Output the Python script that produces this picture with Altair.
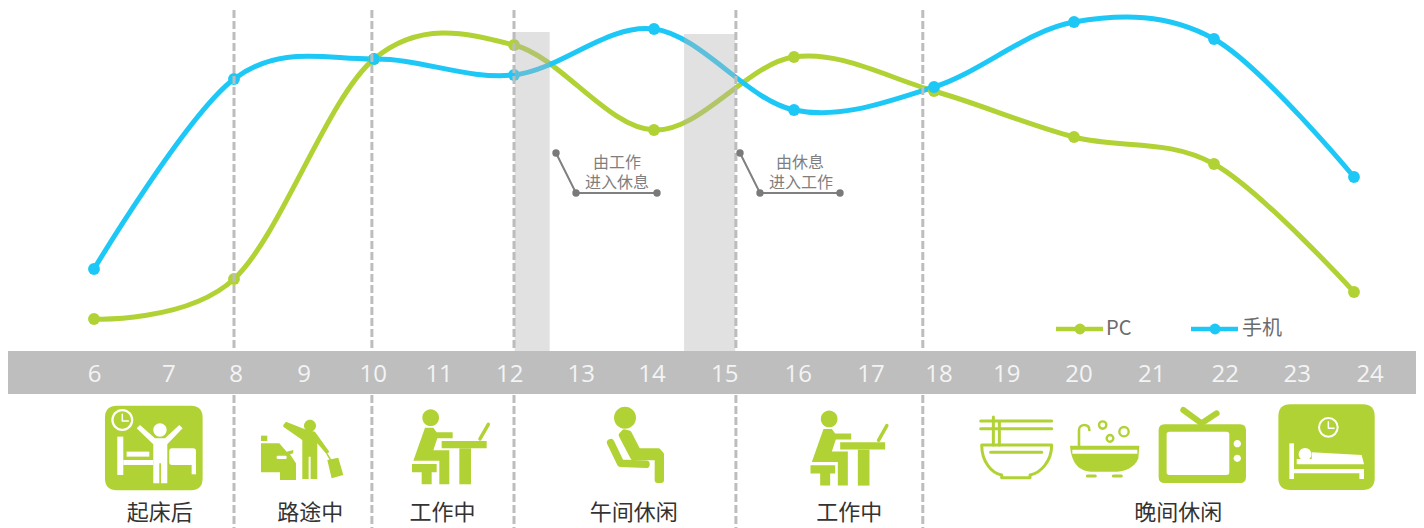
import re
import altair as alt
import pandas as pd

# ---- series ----
hours = [6, 8, 10, 12, 14, 16, 18, 20, 22, 24]
pc_values = [32, 72, 292, 306, 221, 294, 260, 214, 187, 59]
phone_values = [82, 272, 292, 276, 322, 241, 264, 329, 312, 174]

tick_labels = [str(i) for i in range(6, 25)]
tick_hours = [6.01, 7.07, 8.03, 9.0, 9.99, 10.93, 11.94, 12.96, 13.97, 15.01,
              16.06, 17.1, 18.07, 19.04, 20.07, 21.11, 22.16, 23.19, 24.23]
divider_hours = [8, 9.97, 12, 15.17, 17.84]
band_start = [12.01, 14.43]
band_end = [12.51, 15.16]
band_top = [319, 317]

caption_texts = ["起床后", "路途中", "工作中", "午间休闲", "工作中", "晚间休闲"]
caption_hours = [6.94, 9.09, 10.98, 13.71, 16.79, 21.49]

GREEN = "#b1d234"
BLUE = "#1ec8f6"
W, H = 1408, 520


def hr(px):
    return 6 + (px - 94) / 70


def val(py):
    return 351 - py


xs = alt.Scale(domain=[hr(8), hr(8 + W)], range=[0, W], nice=False, zero=False)
ys = alt.Scale(domain=[val(8 + H), val(8)], range=[H, 0], nice=False, zero=False)
X = alt.X("h:Q", scale=xs, axis=None)
Y = alt.Y("v:Q", scale=ys, axis=None)


def base(df):
    return alt.Chart(pd.DataFrame(df))


# ---- icon glyph helpers (coordinates are glyph-local, in a 3x design grid) ----
def poly(*pts):
    p = list(pts)
    return "M" + "L".join(f"{p[i]},{p[i+1]}" for i in range(0, len(p), 2)) + "Z"


def pline(*pts):
    p = list(pts)
    return "M" + "L".join(f"{p[i]},{p[i+1]}" for i in range(0, len(p), 2))


def circ(cx, cy, r):
    k = 0.5523 * r
    return (f"M{cx-r},{cy}C{cx-r},{cy-k} {cx-k},{cy-r} {cx},{cy-r}"
            f"C{cx+k},{cy-r} {cx+r},{cy-k} {cx+r},{cy}"
            f"C{cx+r},{cy+k} {cx+k},{cy+r} {cx},{cy+r}"
            f"C{cx-k},{cy+r} {cx-r},{cy+k} {cx-r},{cy}Z")


def rrect(x0, y0, x1, y1, r=0):
    if r == 0:
        return poly(x0, y0, x1, y0, x1, y1, x0, y1)
    return (f"M{x0+r},{y0}L{x1-r},{y0}Q{x1},{y0} {x1},{y0+r}L{x1},{y1-r}Q{x1},{y1} {x1-r},{y1}"
            f"L{x0+r},{y1}Q{x0},{y1} {x0},{y1-r}L{x0},{y0+r}Q{x0},{y0} {x0+r},{y0}Z")


def local(path, cx, cy):
    """Convert design-grid path (3 units = 1 px) to coordinates round the icon centre."""
    nums = iter(range(10**6))

    def rep(m):
        i = next(nums)
        v = float(m.group(0))
        c = cx if i % 2 == 0 else cy
        return f"{(v - c) / 3:.2f}"

    return re.sub(r"-?\d+(?:\.\d+)?", rep, path)


WHITE = "#ffffff"
NONE = "transparent"


def F(path, color=GREEN):
    return (path, color, NONE, 0)


def S(path, color=GREEN, w=3):
    return (path, NONE, color, w)


def B(path, color=GREEN, w=2):
    return (path, color, color, w)


wake = [
    F(rrect(45, 32, 338, 286, 36)),
    F(circ(97, 75, 33), WHITE), F(circ(97, 75, 26)),
    S(pline(97, 58, 97, 78, 115, 78), WHITE, 1.5),
    F(circ(210, 105, 20), WHITE),
    F(poly(140, 100, 150, 90, 195, 130, 225, 130, 268, 90, 278, 100, 232, 148, 232, 265,
           213, 265, 213, 205, 208, 205, 208, 265, 190, 265, 190, 148), WHITE),
    F(rrect(82, 125, 100, 240), WHITE),
    F(rrect(100, 195, 190, 210), WHITE),
    F(rrect(110, 170, 178, 185), WHITE),
    F(rrect(238, 160, 318, 210, 8), WHITE),
    F(rrect(305, 205, 318, 238), WHITE),
]
commute = [
    F(circ(660, 92, 18)),
    F(poly(580, 90, 588, 80, 645, 103, 675, 110, 718, 170, 710, 178, 682, 145, 682, 252,
           662, 252, 662, 185, 656, 185, 656, 252, 637, 252, 637, 135, 580, 95)),
    F(poly(712, 195, 745, 188, 760, 240, 725, 250)),
    S(pline(712, 178, 722, 195), GREEN, 1.5),
    F(rrect(513, 122, 532, 138)),
    F(poly(513, 145, 568, 145, 590, 170, 610, 165, 610, 175, 600, 178, 618, 205, 618, 255,
           570, 255, 570, 232, 513, 232)),
    F(rrect(560, 182, 590, 192, 3), WHITE),
]
desk = [
    F(circ(1022, 68, 25)),
    F(poly(1005, 98, 1030, 98, 1040, 112, 1088, 112, 1088, 130, 1042, 130, 1030, 166,
           1078, 166, 1078, 268, 1048, 268, 1048, 197, 970, 197)),
    F(poly(966, 207, 1040, 207, 1040, 232, 1025, 232, 1025, 268, 995, 268, 995, 232, 966, 232)),
    F(rrect(1055, 138, 1190, 160)),
    F(rrect(1108, 160, 1143, 268)),
    S(pline(1170, 132, 1195, 88), GREEN, 3.5),
]
seat = [
    F(circ(195, 68, 33)),
    B(poly(185, 120, 193, 112, 206, 115, 234, 169, 295, 169, 303, 178, 303, 255, 293, 255,
           293, 187, 220, 187), GREEN, 6),
    S(pline(152, 143, 182, 205, 258, 208), GREEN, 7.5),
]
bowl = [
    S(pline(62, 78, 275, 78)), S(pline(62, 101, 275, 101)),
    S(pline(100, 66, 100, 150)), S(pline(118, 80, 118, 150)),
    S("M65,150L275,150C275,200 240,235 210,240L210,248L125,248L125,240C95,235 65,200 65,150Z"),
    S(pline(92, 172, 245, 172)),
]
bath = [
    F("M330,152L538,152L535,190C525,220 490,230 470,230L400,230C360,230 335,210 330,152Z"),
    F(rrect(337, 164, 532, 176), WHITE),
    S(pline(382, 243, 406, 243)), S(pline(460, 243, 484, 243)),
    S("M357,152L357,105C357,85 390,85 388,105", GREEN, 2.6),
    S(circ(428, 90, 11), GREEN, 2.4), S(circ(450, 130, 10), GREEN, 2.4), S(circ(492, 110, 14), GREEN, 2.4),
]
tv = [
    F(rrect(596, 88, 858, 264, 18)),
    F(rrect(620, 110, 808, 240, 8), WHITE),
    F(circ(832, 146, 11), WHITE), F(circ(832, 190, 11), WHITE),
    S(pline(670, 45, 725, 85, 770, 55), GREEN, 6),
]
sleep = [
    F(rrect(955, 28, 1244, 285, 36)),
    S(circ(1105, 97, 28), WHITE, 2),
    S(pline(1105, 80, 1105, 100, 1122, 100), WHITE, 1.5),
    F(rrect(988, 145, 1002, 252), WHITE),
    F(rrect(1002, 222, 1210, 235), WHITE),
    F(rrect(1198, 222, 1212, 252), WHITE),
    F(poly(1055, 172, 1205, 180, 1212, 208, 1010, 208, 1010, 192, 1055, 192), WHITE),
    F(circ(1035, 178, 19), WHITE),
]

# glyph, design-grid centre, reference position of that centre
placements = [
    (wake, (190, 160), (153.3, 448.3)),
    (commute, (640, 165), (303.3, 450)),
    (desk, (1080, 160), (450, 448.3)),
    (seat, (225, 155), (635, 446.7)),
    (desk, (1080, 160), (848.5, 449.6)),
    (bowl, (170, 155), (1016.7, 446.7)),
    (bath, (435, 155), (1105, 446.7)),
    (tv, (727, 155), (1202.3, 446.7)),
    (sleep, (1100, 155), (1326.7, 446.7)),
]
icon_rows = []
for glyph, (cx, cy), (px, py) in placements:
    for path, fill, stroke, sw in glyph:
        icon_rows.append(dict(h=hr(px), v=val(py), path=local(path, cx, cy),
                              fill=fill, stroke=stroke, sw=sw))

# ---- layers ----
series = pd.DataFrame(
    {"h": hours * 2, "v": pc_values + phone_values,
     "s": ["PC"] * len(hours) + ["手机"] * len(hours)})
color = alt.Color("s:N", scale=alt.Scale(domain=["PC", "手机"], range=[GREEN, BLUE]), legend=None)

lines = alt.Chart(series).mark_line(interpolate="cardinal", tension=0, strokeWidth=5).encode(x=X, y=Y, color=color)
dots = alt.Chart(series).mark_circle(size=140, opacity=1).encode(x=X, y=Y, color=color)

dividers = base({"h": divider_hours, "v": [val(10)] * 5, "v2": [val(8 + H)] * 5}).mark_rule(
    color="#bdbdbd", strokeWidth=3, strokeDash=[8, 3]
).encode(x=X, y=Y, y2="v2:Q")

bands = base({"h": band_start, "h2": band_end, "v": band_top, "v2": [0, 0]}).mark_rect(
    color="#b4b4b4", opacity=0.4
).encode(x=X, x2="h2:Q", y=Y, y2="v2:Q")

axis_band = base({"h": [hr(8)], "h2": [hr(8 + W)], "v": [0], "v2": [val(394)]}).mark_rect(
    color="#bebebe"
).encode(x=X, x2="h2:Q", y=Y, y2="v2:Q")

ticks = base({"h": tick_hours, "v": [val(374.5)] * 19, "t": tick_labels}).mark_text(
    font="Open Sans", fontSize=24, color="#f4f4f4", baseline="middle", align="center"
).encode(x=X, y=Y, text="t:N")

# callouts
callouts = pd.DataFrame({
    "g": ["a"] * 3 + ["b"] * 3,
    "h": [hr(556), hr(576), hr(657), hr(740), hr(760), hr(840)],
    "v": [val(153), val(193), val(193)] * 2,
})
callout_lines = alt.Chart(callouts).mark_line(color="#808080", strokeWidth=2).encode(
    x=X, y=Y, detail="g:N", order=alt.Order("h:Q"))
callout_dots = alt.Chart(callouts).mark_circle(color="#7a7a7a", size=55, opacity=1).encode(x=X, y=Y)
callout_text = base({
    "h": [hr(617), hr(617), hr(800), hr(801)],
    "v": [val(163), val(182.5), val(163), val(182.5)],
    "t": ["由工作", "进入休息", "由休息", "进入工作"],
}).mark_text(font="Noto Sans CJK SC", fontSize=16, color="#7f7f7f", baseline="middle").encode(
    x=X, y=Y, text="t:N")

# hand-placed legend
legend_rows = pd.DataFrame({
    "s": ["PC", "PC", "手机", "手机"],
    "h": [hr(1056), hr(1103), hr(1191), hr(1238)],
    "v": [val(329)] * 4,
})
legend_lines = alt.Chart(legend_rows).mark_line(strokeWidth=4.5).encode(x=X, y=Y, color=color)
legend_dots = base({"s": ["PC", "手机"], "h": [hr(1080), hr(1215)], "v": [val(329)] * 2}).mark_circle(
    size=120, opacity=1).encode(x=X, y=Y, color=color)
legend_text = base({"h": [hr(1106), hr(1242)], "v": [val(329)] * 2, "t": ["PC", "手机"]}).mark_text(
    font="Noto Sans CJK SC", fontSize=20, color="#6b6b6b", align="left", baseline="middle"
).encode(x=X, y=Y, text="t:N")

icons = alt.Chart(pd.DataFrame(icon_rows)).mark_point(
    size=4, filled=True, opacity=1, strokeCap="round", strokeJoin="round"
).encode(
    x=X, y=Y,
    shape=alt.Shape("path:N", scale=None),
    fill=alt.Fill("fill:N", scale=None),
    stroke=alt.Stroke("stroke:N", scale=None),
    strokeWidth=alt.StrokeWidth("sw:Q", scale=None),
)

captions = base({"h": caption_hours, "v": [val(513)] * 6, "t": caption_texts}).mark_text(
    font="Noto Sans CJK SC", fontSize=22, color="#333333", baseline="middle"
).encode(x=X, y=Y, text="t:N")

chart = alt.layer(
    lines, dots, dividers, bands, axis_band, ticks,
    callout_lines, callout_dots, callout_text,
    legend_lines, legend_dots, legend_text,
    icons, captions,
).properties(width=W, height=H, padding=0, autosize="none", background="white").configure_view(stroke=None)

chart.save("out.html", embed_options={"renderer": "svg", "actions": False})
